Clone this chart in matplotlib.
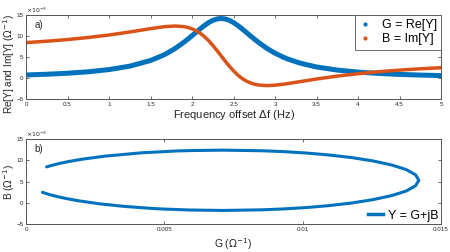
import numpy as np
import matplotlib
matplotlib.use("Agg")
import matplotlib.pyplot as plt
from matplotlib.lines import Line2D
from matplotlib.ticker import FuncFormatter

# -------------------------------------------------
# Data, admittance in 1e-3 ohm^-1
# -------------------------------------------------
freq = [0.0, 0.25, 0.5, 0.75, 1.0, 1.25, 1.5, 1.65, 1.7, 1.8, 1.9, 1.95,
        2.0, 2.05, 2.1, 2.15, 2.2, 2.25, 2.3, 2.35, 2.4, 2.45, 2.5, 2.55,
        2.6, 2.65, 2.7, 2.75, 2.8, 2.9, 3.0, 3.1, 3.15, 3.3, 3.5, 3.75,
        4.0, 4.25, 4.5, 4.75, 5.0]

G_re = [0.74, 0.91, 1.15, 1.50, 2.02, 2.84, 4.19, 5.42, 5.93, 7.10, 8.51, 9.29,
        10.11, 10.94, 11.77, 12.54, 13.22, 13.75, 14.08, 14.20, 14.08, 13.75, 13.22, 12.54,
        11.77, 10.94, 10.11, 9.29, 8.51, 7.10, 5.93, 4.97, 4.56, 3.57, 2.64, 1.90,
        1.42, 1.10, 0.87, 0.71, 0.59]

B_im = [8.45, 8.78, 9.18, 9.67, 10.26, 10.98, 11.78, 12.20, 12.30, 12.40, 12.26, 12.06,
        11.73, 11.27, 10.65, 9.86, 8.90, 7.80, 6.58, 5.30, 4.02, 2.80, 1.70, 0.74,
        -0.05, -0.67, -1.13, -1.45, -1.66, -1.80, -1.70, -1.47, -1.33, -0.86, -0.23, 0.47,
        1.04, 1.51, 1.89, 2.21, 2.47]

top_xticks = [0, 0.5, 1, 1.5, 2, 2.5, 3, 3.5, 4, 4.5, 5]
bot_xticks = [0, 0.005, 0.01, 0.015]
yticks = [-5, 0, 5, 10, 15]

blue = "#0072BD"
orange = "#D95319"
axcol = "#555555"
txtcol = "#262626"

plt.rcParams["font.family"] = ["Liberation Sans", "DejaVu Sans"]

fig = plt.figure(figsize=(4.5, 2.52), dpi=100)
ax1 = fig.add_axes([0.058, 0.607, 0.922, 0.333])
ax2 = fig.add_axes([0.058, 0.111, 0.922, 0.337])

gfmt = FuncFormatter(lambda v, p: "%g" % v)


def style_axes(ax):
    for s in ax.spines.values():
        s.set_color(axcol)
        s.set_linewidth(0.7)
    ax.tick_params(direction="in", length=2.5, width=0.6, colors=axcol,
                   labelcolor=txtcol, labelsize=4.5, pad=2,
                   top=True, right=True)
    ax.set_yticks(yticks)
    ax.set_ylim(-5, 15)
    ax.text(0.0, 1.005, r"$\times10^{-3}$", transform=ax.transAxes,
            fontsize=4.5, color=txtcol, va="bottom", ha="left")


# -------------------------------------------------
# a) G and B vs frequency
# -------------------------------------------------
ax1.plot(freq, G_re, color=blue, lw=3.6, solid_capstyle="round")
ax1.plot(freq, B_im, color=orange, lw=2.5, solid_capstyle="round")
style_axes(ax1)
ax1.set_xlim(0, 5)
ax1.set_xticks(top_xticks)
ax1.xaxis.set_major_formatter(gfmt)
ax1.set_xlabel("Frequency offset $\\Delta$f (Hz)", fontsize=8, color=txtcol, labelpad=1)
ax1.set_ylabel("Re[Y] and Im[Y] ($\\Omega^{-1}$)", fontsize=7.2, color=txtcol)
ax1.yaxis.set_label_coords(-0.022, 0.42)
ax1.text(0.02, 0.88, "a)", transform=ax1.transAxes, fontsize=7, color=txtcol, va="center")

handles = [Line2D([], [], color=blue, marker="o", ms=2, ls="none"),
           Line2D([], [], color=orange, marker="o", ms=2, ls="none")]
leg1 = ax1.legend(handles, ["G = Re[Y]", "B = Im[Y]"], loc="upper right",
                  fontsize=9, borderaxespad=0, handlelength=1.0, handletextpad=0.8,
                  labelspacing=0.15, borderpad=0.35, fancybox=False, framealpha=1)
leg1.get_frame().set_edgecolor(axcol)
leg1.get_frame().set_linewidth(0.6)

# -------------------------------------------------
# b) B vs G
# -------------------------------------------------
G_abs = [g * 1e-3 for g in G_re]
ax2.plot(G_abs, B_im, color=blue, lw=2.2, solid_capstyle="round")
style_axes(ax2)
ax2.set_xlim(0, 0.015)
ax2.set_xticks(bot_xticks)
ax2.xaxis.set_major_formatter(gfmt)
ax2.set_xlabel("G ($\\Omega^{-1}$)", fontsize=7.5, color=txtcol, labelpad=3)
ax2.set_ylabel("B ($\\Omega^{-1}$)", fontsize=7.2, color=txtcol)
ax2.yaxis.set_label_coords(-0.022, 0.5)
ax2.text(0.02, 0.88, "b)", transform=ax2.transAxes, fontsize=7, color=txtcol, va="center")

leg2 = ax2.legend([Line2D([], [], color=blue, lw=2.5)], ["Y = G+jB"], loc="lower right",
                  fontsize=9, frameon=False, borderaxespad=0.1, handlelength=1.2,
                  handletextpad=0.4, borderpad=0.1)

fig.savefig("out.png", dpi=100)
